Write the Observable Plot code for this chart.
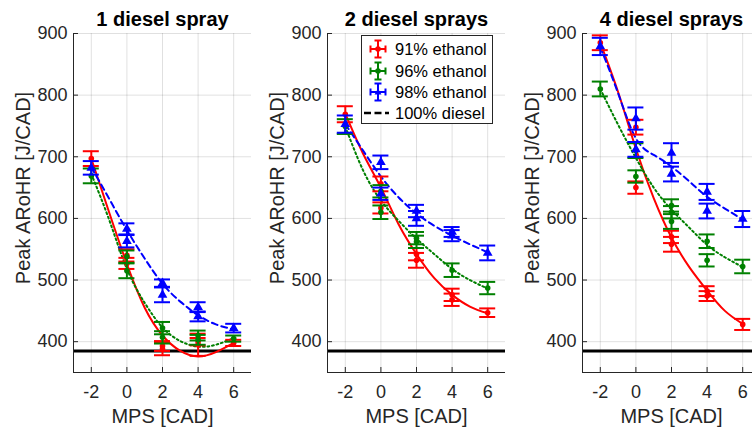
<!DOCTYPE html>
<html><head><meta charset="utf-8">
<script src="https://cdn.jsdelivr.net/npm/d3@7"></script>
<script src="https://cdn.jsdelivr.net/npm/@observablehq/plot@0.6"></script>
<style>
body{margin:0;background:#fff;overflow:hidden}
#wrap{position:relative;width:752px;height:428px;overflow:hidden;font-family:"Liberation Sans",Arial,sans-serif}
.panel{position:absolute;top:0}
#legend{position:absolute;left:361px;top:35px;width:130px;height:87px;border:1px solid #262626;background:#fff}
#legend .row{position:absolute;left:0;height:20px;display:flex;align-items:center}
#legend .row svg{display:block}
#legend .row span{font-size:16.5px;color:#000;margin-left:2px;white-space:nowrap}
</style></head><body><div id="wrap"></div>
<script>
// ---- axes / categories ----
const titles = ["1 diesel spray", "2 diesel sprays", "4 diesel sprays"];
const fuels = ["91% ethanol", "96% ethanol", "98% ethanol"];
const dieselLabel = "100% diesel";
const xLabel = "MPS [CAD]";
const yLabel = "Peak ARoHR [J/CAD]";
const xTicks = [-2, 0, 2, 4, 6];
const yTicks = [400, 500, 600, 700, 800, 900];
const xDomain = [-3, 7];
const yDomain = [350, 900];
const fitMps = [-2, -1, 0, 1, 2, 3, 4, 5, 6];
const dieselPeak = 385;

// ---- measurements [MPS, peak, error] ----
const e91_1 = [[-2,697,12],[0,540,10],[0,527,9],[2,393,8],[2,388,10],[4,400,6],[4,395,18],[6,398,5]];
const e96_1 = [[-2,669,12],[0,538,10],[0,515,12],[2,422,10],[2,407,10],[4,410,8],[4,403,8],[6,405,5]];
const e98_1 = [[-2,682,11],[0,583,9],[0,563,10],[2,495,6],[2,476,12],[4,456,8],[4,441,8],[6,422,7]];

const e91_2 = [[-2,769,13],[0,656,12],[0,617,9],[2,542,10],[2,532,12],[4,476,10],[4,468,10],[6,447,7]];
const e96_2 = [[-2,749,12],[0,644,10],[0,610,11],[2,568,10],[2,562,10],[4,516,11],[6,487,10]];
const e98_2 = [[-2,753,14],[0,691,11],[0,640,10],[2,612,10],[2,600,12],[4,578,8],[4,572,9],[6,544,12]];

const e91_4 = [[-2,885,12],[0,748,12],[0,650,10],[2,570,10],[2,558,12],[4,482,8],[4,474,8],[6,428,9]];
const e96_4 = [[-2,810,12],[0,710,12],[0,668,10],[2,621,10],[2,610,10],[2,595,12],[4,563,11],[4,532,10],[6,522,11]];
const e98_4 = [[-2,879,14],[0,762,18],[0,712,12],[2,706,16],[2,672,12],[4,643,13],[4,612,12],[6,599,13]];

// ---- fitted curves, read at MPS = -2..6 ----
const fit91_1 = [697,610,526,455,410,385,376,383,398];
const fit96_1 = [672,598,518,463,423,401,392,395,406];
const fit98_1 = [683,632,581,535,494,465,443,428,420];

const fit91_2 = [770,705,650,590,542,503,476,457,446];
const fit96_2 = [749,678,629,596,567,542,518,500,486];
const fit98_2 = [753,710,668,634,608,588,572,558,545];

const fit91_4 = [885,805,713,633,569,521,483,450,429];
const fit96_4 = [810,752,698,650,614,585,557,537,521];
const fit98_4 = [878,803,730,703,684,660,635,616,598];

// ---- styles ----
const colors = ["#ff0000", "#008000", "#0000ff"];
const dashes = [null, "1.8 2.8", "6 4"];
const symbols = ["circle", "circle", "triangle"];
const capHalf = 0.45;

const panels = [
  {meas: [e91_1, e96_1, e98_1], fits: [fit91_1, fit96_1, fit98_1]},
  {meas: [e91_2, e96_2, e98_2], fits: [fit91_2, fit96_2, fit98_2]},
  {meas: [e91_4, e96_4, e98_4], fits: [fit91_4, fit96_4, fit98_4]}
];

const wrap = document.getElementById("wrap");
const ink = "#262626";

panels.forEach((p, i) => {
  const marks = [
    Plot.gridX(xTicks, {stroke: "#000", strokeOpacity: 0.12}),
    Plot.gridY(yTicks, {stroke: "#000", strokeOpacity: 0.12}),
    Plot.ruleY([dieselPeak], {stroke: "#000", strokeWidth: 3})
  ];
  p.fits.forEach((f, k) => {
    const rows = f.map((y, j) => ({x: fitMps[j], y}));
    marks.push(Plot.line(rows, {x: "x", y: "y", curve: "natural", stroke: colors[k], strokeWidth: 2, strokeDasharray: dashes[k]}));
  });
  p.meas.forEach((m, k) => {
    const rows = m.map(([x, y, e]) => ({x, y, e}));
    const st = {stroke: colors[k], strokeWidth: 2};
    marks.push(Plot.ruleX(rows, {x: "x", y1: d => d.y - d.e, y2: d => d.y + d.e, ...st}));
    marks.push(Plot.ruleY(rows, {y: d => d.y - d.e, x1: d => d.x - capHalf, x2: d => d.x + capHalf, ...st}));
    marks.push(Plot.ruleY(rows, {y: d => d.y + d.e, x1: d => d.x - capHalf, x2: d => d.x + capHalf, ...st}));
    marks.push(Plot.dot(rows, {x: "x", y: "y", r: symbols[k] === "triangle" ? 3.6 : 2.8, fill: colors[k], stroke: "none", symbol: symbols[k]}));
  });
  marks.push(
    Plot.ruleX([xDomain[0]], {stroke: ink, strokeWidth: 1}),
    Plot.ruleY([yDomain[0]], {stroke: ink, strokeWidth: 1}),
    Plot.axisX(xTicks, {tickSize: -5, tickPadding: 18, fontSize: 18, color: ink, label: null, tickFormat: d => String(d)}),
    Plot.axisY(yTicks, {tickSize: -5, tickPadding: 11, fontSize: 18, color: ink, label: null, tickFormat: d => String(d)}),
    Plot.text([titles[i]], {frameAnchor: "top", textAnchor: "middle", lineAnchor: "bottom", dy: -8, fontSize: 20, fontWeight: "bold", fill: "#000"}),
    Plot.text([xLabel], {frameAnchor: "bottom", textAnchor: "middle", lineAnchor: "bottom", dy: 50, fontSize: 20, fill: ink}),
    Plot.text([yLabel], {frameAnchor: "left", textAnchor: "middle", lineAnchor: "middle", rotate: -90, dx: -50, dy: -15, fontSize: 20, fill: ink})
  );
  const svg = Plot.plot({
    width: 254, height: 428,
    marginLeft: 73, marginRight: 3, marginTop: 33, marginBottom: 56,
    x: {domain: xDomain},
    y: {domain: yDomain},
    style: {fontFamily: "'Liberation Sans', Arial, sans-serif", background: "transparent", overflow: "visible"},
    marks
  });
  svg.classList.add("panel");
  svg.style.left = (i === 0 ? 0 : i === 1 ? 254 : 509) + "px";
  wrap.appendChild(svg);
});

// ---- legend ----
const legend = document.createElement("div");
legend.id = "legend";
const rowTops = [3, 25, 46, 67];
fuels.forEach((name, k) => {
  const row = document.createElement("div");
  row.className = "row";
  row.style.top = rowTops[k] + "px";
  const c = colors[k];
  const mk = symbols[k] === "triangle"
    ? `<path d="M16,6.5 L19.5,12.5 L12.5,12.5 Z" fill="${c}"/>`
    : `<circle cx="16" cy="10" r="2.8" fill="${c}"/>`;
  row.innerHTML = `<svg width="31" height="20">
    <g stroke="${c}" stroke-width="2" fill="none">
      <line x1="16" y1="1.5" x2="16" y2="18.5"/>
      <line x1="12.5" y1="1.5" x2="19.5" y2="1.5"/>
      <line x1="12.5" y1="18.5" x2="19.5" y2="18.5"/>
      <line x1="8.5" y1="10" x2="23.5" y2="10"/>
      <line x1="8.5" y1="6.5" x2="8.5" y2="13.5"/>
      <line x1="23.5" y1="6.5" x2="23.5" y2="13.5"/>
    </g>${mk}</svg><span>${name}</span>`;
  legend.appendChild(row);
});
const drow = document.createElement("div");
drow.className = "row";
drow.style.top = rowTops[3] + "px";
drow.innerHTML = `<svg width="31" height="20"><line x1="2" y1="10" x2="27" y2="10" stroke="#000" stroke-width="2.5" stroke-dasharray="7 3.5"/></svg><span>${dieselLabel}</span>`;
legend.appendChild(drow);
wrap.appendChild(legend);
</script></body></html>
